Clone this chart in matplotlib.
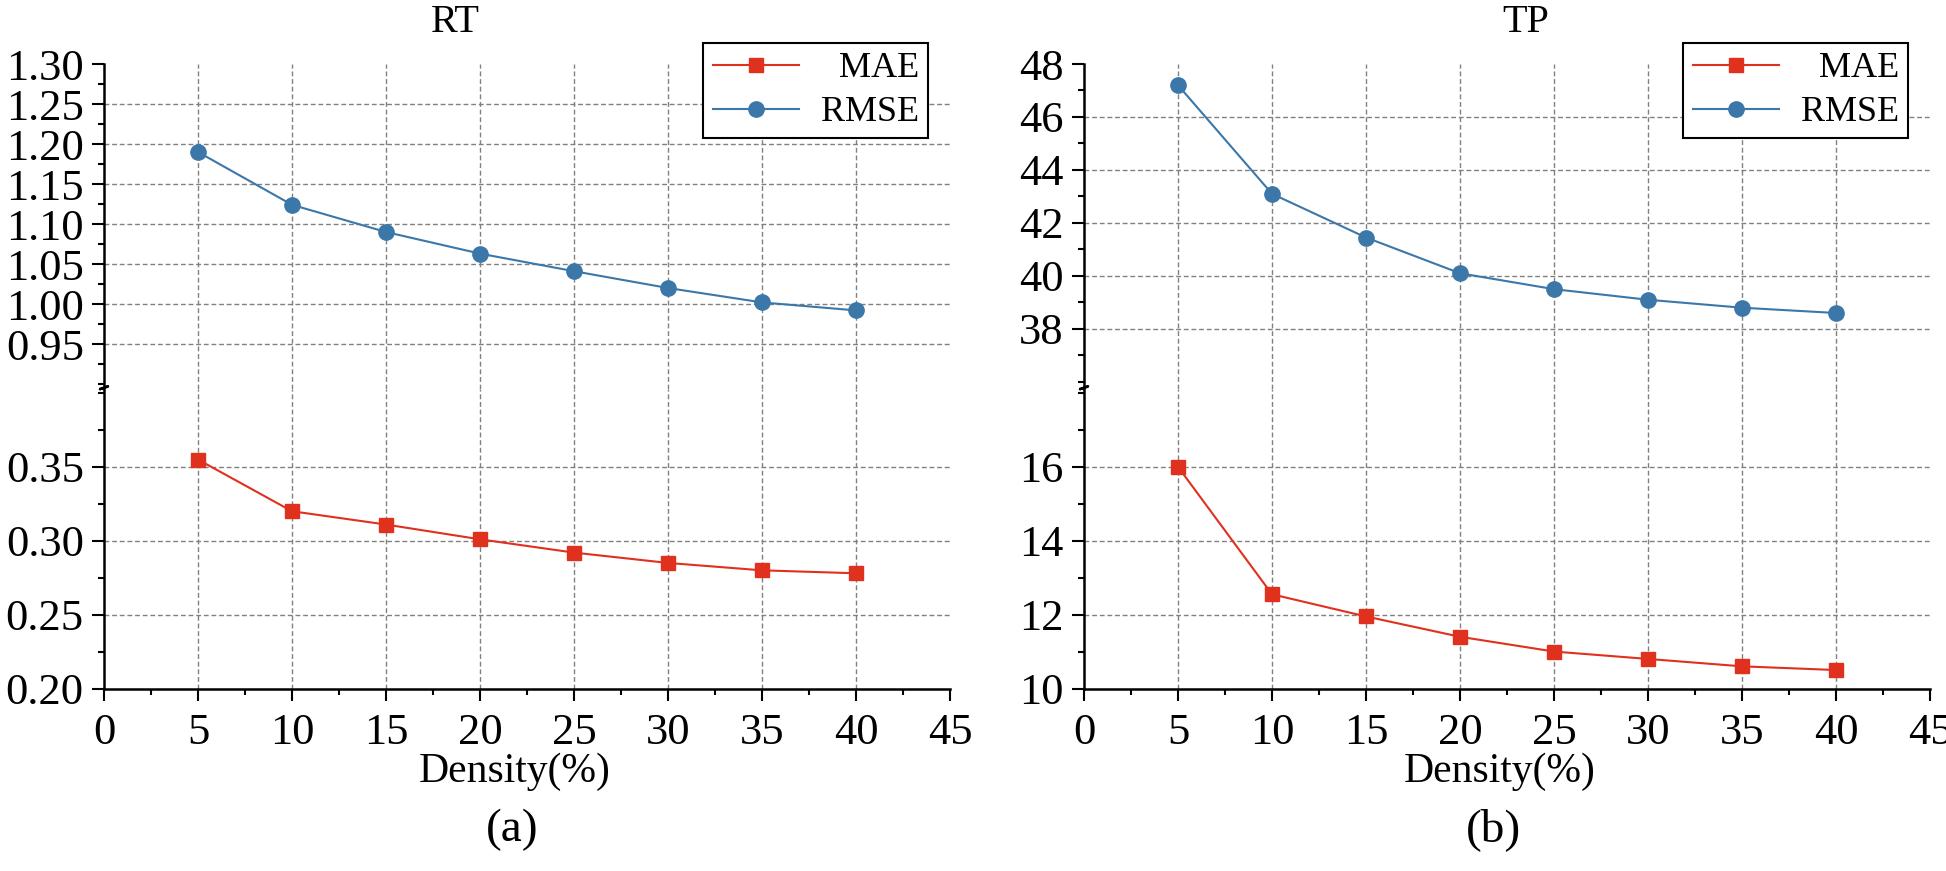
import matplotlib
matplotlib.use("Agg")
import matplotlib.pyplot as plt
from matplotlib.ticker import FixedLocator, MultipleLocator, FormatStrFormatter

plt.rcParams['font.family'] = ['Liberation Serif', 'DejaVu Serif']

# data
density = [5, 10, 15, 20, 25, 30, 35, 40]
rt_mae = [0.355, 0.320, 0.311, 0.301, 0.292, 0.285, 0.280, 0.278]
rt_rmse = [1.190, 1.124, 1.090, 1.063, 1.041, 1.020, 1.002, 0.992]
tp_mae = [16.0, 12.55, 11.95, 11.4, 11.0, 10.8, 10.6, 10.5]
tp_rmse = [47.2, 43.1, 41.45, 40.1, 39.5, 39.1, 38.8, 38.6]

x_ticks = [0, 5, 10, 15, 20, 25, 30, 35, 40, 45]
rt_up_ticks = [0.95, 1.00, 1.05, 1.10, 1.15, 1.20, 1.25, 1.30]
rt_low_ticks = [0.20, 0.25, 0.30, 0.35]
tp_up_ticks = [38, 40, 42, 44, 46, 48]
tp_low_ticks = [10, 12, 14, 16]

red = '#e0301e'
blue = '#3b77a8'
grid_kw = dict(color='#808080', linestyle=(0, (3.5, 2)), linewidth=1.0, zorder=0)

W, H = 1946, 871
fig = plt.figure(figsize=(W / 100, H / 100), dpi=100)


def px(x0, y0, x1, y1):
    # pixel box -> figure fraction rect
    return [x0 / W, 1 - y1 / H, (x1 - x0) / W, (y1 - y0) / H]


def style(ax, upper, yticks, minor, fmt):
    for s in ['top', 'right']:
        ax.spines[s].set_visible(False)
    ax.spines['left'].set_linewidth(1.8)
    ax.spines['bottom'].set_linewidth(1.8)
    ax.tick_params(which='major', direction='out', length=8.5, width=1.5,
                   labelsize=32, pad=6)
    ax.tick_params(which='minor', direction='out', length=4.5, width=1.5)
    ax.set_xlim(0, 45)
    ax.xaxis.set_major_locator(FixedLocator(x_ticks))
    ax.xaxis.set_minor_locator(MultipleLocator(2.5))
    ax.yaxis.set_major_locator(FixedLocator(yticks))
    ax.yaxis.set_minor_locator(MultipleLocator(minor))
    ax.yaxis.set_major_formatter(FormatStrFormatter(fmt))
    # dashed grid, skipping lines that sit on the axes edges
    for xv in x_ticks[1:-1]:
        ax.axvline(xv, **grid_kw)
    lo, hi = ax.get_ylim()
    for yv in yticks:
        if lo + 1e-9 < yv < hi - 1e-9:
            ax.axhline(yv, **grid_kw)
    if upper:
        ax.spines['bottom'].set_visible(False)
        ax.tick_params(axis='x', which='both', bottom=False, labelbottom=False)
    else:
        ax.tick_params(axis='x', pad=9)


panels = [
    (104, rt_mae, rt_rmse, rt_up_ticks, rt_low_ticks, (0.8944, 1.30), (0.20, 0.4031),
     0.025, '%.2f', 'RT', 455, '(a)', 515, 512, 928),
    (1084, tp_mae, tp_rmse, tp_up_ticks, tp_low_ticks, (35.75, 48), (10, 18.12),
     1, '%d', 'TP', 1526, '(b)', 1500, 1494, 1908),
]

for (x0, mae, rmse, up_t, low_t, up_lim, low_lim, minor, fmt,
     title, tx, sub, dx, sx, leg_r) in panels:
    ax_up = fig.add_axes(px(x0, 64, x0 + 846, 388.5))
    ax_low = fig.add_axes(px(x0, 388.5, x0 + 846, 688.5))

    ax_up.plot(density, rmse, color=blue, lw=1.5, marker='o', ms=11,
               label='RMSE', zorder=3)
    ax_low.plot(density, mae, color=red, lw=1.5, marker='s', ms=10,
                label='MAE', zorder=3)

    ax_up.set_ylim(*up_lim)
    ax_low.set_ylim(*low_lim)
    style(ax_up, True, up_t, minor, fmt)
    style(ax_low, False, low_t, minor, fmt)

    # axis break mark on the left spine
    ax_low.plot([-0.004, 0.005, -0.005, 0.004], [1.0, 1.008, 0.997, 1.005],
                transform=ax_low.transAxes, color='black', lw=1.5,
                clip_on=False, zorder=5)

    # legend
    h1, l1 = ax_low.get_legend_handles_labels()
    h2, l2 = ax_up.get_legend_handles_labels()
    leg = fig.legend(h1 + h2, l1 + l2, loc='upper right',
                     bbox_to_anchor=(leg_r / W, 1 - 43 / H), borderaxespad=0,
                     fontsize=26, frameon=True, fancybox=False, framealpha=1,
                     edgecolor='black', handlelength=2.4, labelspacing=0.3,
                     borderpad=0.25, handletextpad=0.6)
    leg.get_frame().set_linewidth(1.5)
    fig.canvas.draw()
    r = fig.canvas.get_renderer()
    widths = [t.get_window_extent(r).width for t in leg.get_texts()]
    wmax = max(widths)
    for t, w in zip(leg.get_texts(), widths):
        t.set_position((wmax - w, 0))

    fig.text(tx / W, 1 - 22 / H, title, ha='center', va='center', fontsize=29)
    fig.text(dx / W, 1 - 772 / H, 'Density(%)', ha='center', va='center', fontsize=30)
    fig.text(sx / W, 1 - 830 / H, sub, ha='center', va='center', fontsize=34)

fig.savefig('out.png', dpi=100)
